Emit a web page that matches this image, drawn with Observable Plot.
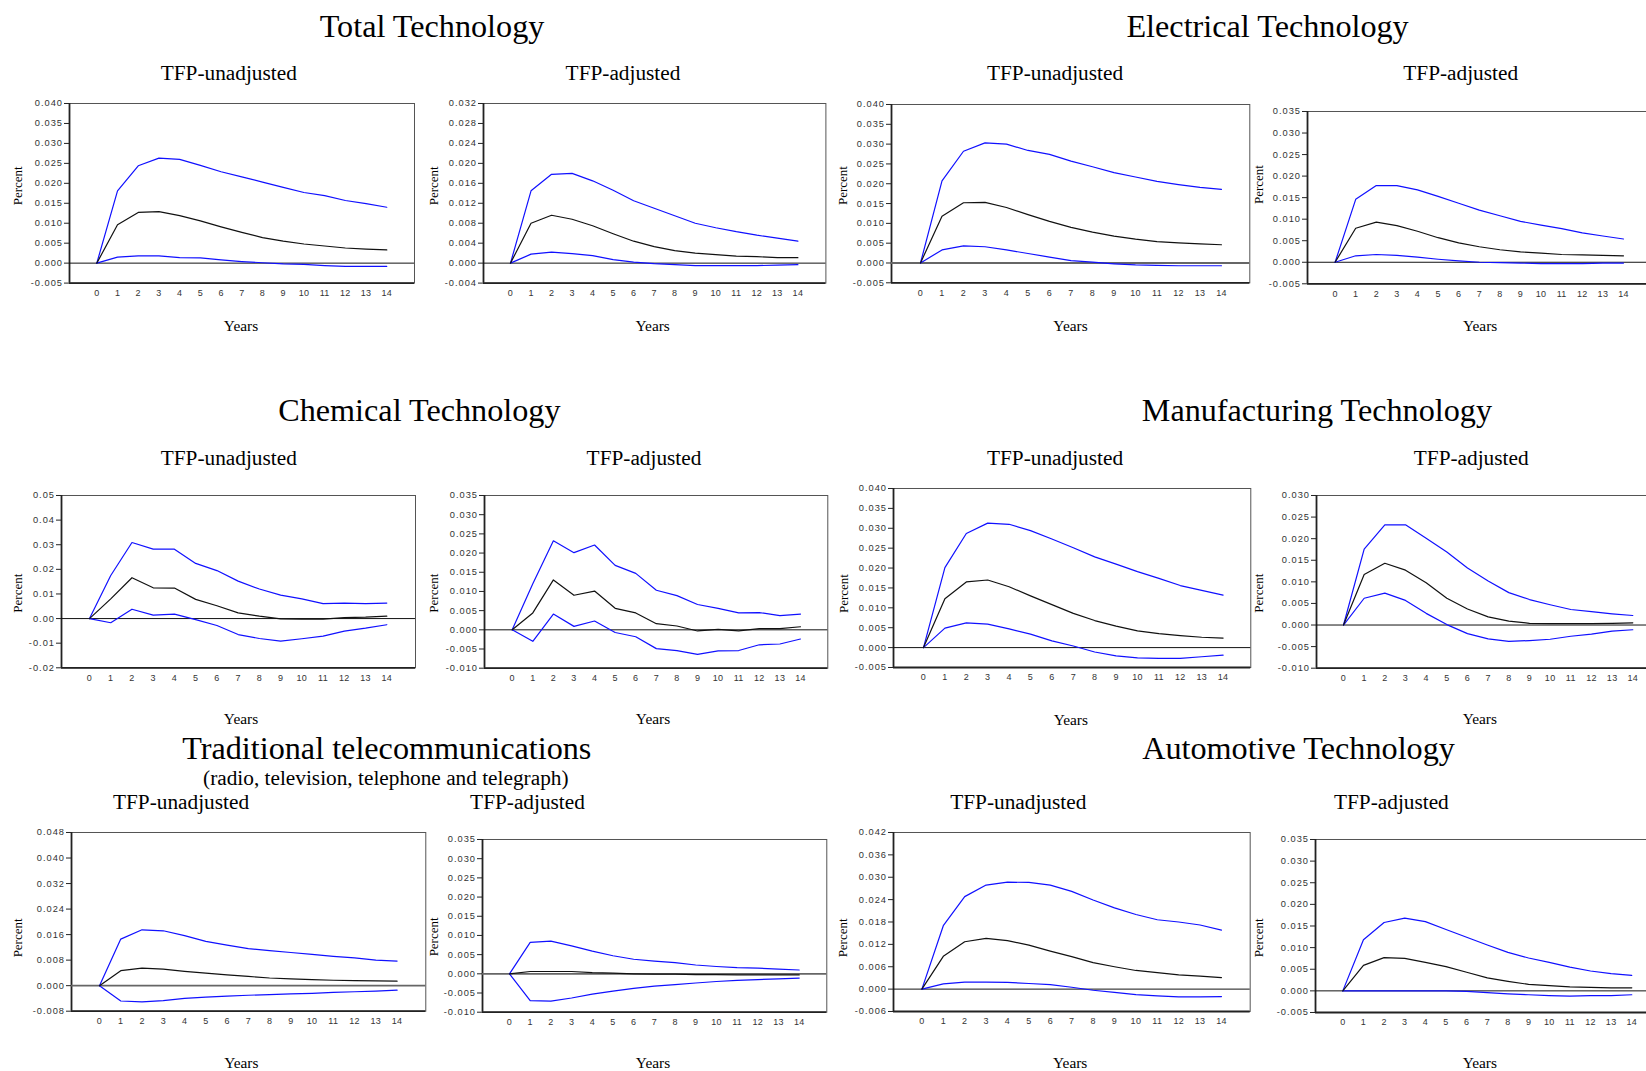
<!DOCTYPE html>
<html>
<head>
<meta charset="utf-8">
<script src="https://cdn.jsdelivr.net/npm/d3@7"></script>
<script src="https://cdn.jsdelivr.net/npm/@observablehq/plot@0.6"></script>
<style>
  html, body { margin: 0; padding: 0; background: #fff; }
  #wrap { position: relative; width: 1646px; height: 1071px; overflow: hidden; background: #fff; }
  .ttl { position: absolute; transform: translate(-50%, -50%); white-space: nowrap; line-height: 1;
         font-family: "Liberation Serif", "Times New Roman", serif; color: #000; }
  .big { font-size: 32.2px; }
  .sub { font-size: 21.3px; }
  #wrap svg { position: absolute; overflow: visible; }
  g[aria-label="y-axis tick label"] text { letter-spacing: 1px; }
  g[aria-label="x-axis tick label"] text { letter-spacing: 0.3px; }
</style>
</head>
<body>
<div id="wrap"></div>
<script>
// ---------- data ----------
const years = [0,1,2,3,4,5,6,7,8,9,10,11,12,13,14];

const groupTitles = ["Total Technology", "Electrical Technology", "Chemical Technology",
  "Manufacturing Technology", "Traditional telecommunications", "Automotive Technology"];
const groupSubtitle = "(radio, television, telephone and telegraph)";
const panelTitles = ["TFP-unadjusted", "TFP-adjusted"];

const totalUnadjUpper = [0, 0.0181, 0.0244, 0.0263, 0.0260, 0.0245, 0.0229, 0.0216, 0.0203, 0.0190, 0.0177, 0.0169, 0.0157, 0.0149, 0.0140];
const totalUnadjIrf   = [0, 0.0096, 0.0127, 0.0129, 0.0119, 0.0106, 0.0091, 0.0077, 0.0064, 0.0055, 0.0048, 0.0043, 0.0038, 0.0035, 0.0033];
const totalUnadjLower = [0, 0.0015, 0.0018, 0.0018, 0.0014, 0.0013, 0.0008, 0.0004, 0.0001, -0.0002, -0.0003, -0.0006, -0.0008, -0.0008, -0.0008];

const totalAdjUpper = [0, 0.0145, 0.0178, 0.0180, 0.0165, 0.0146, 0.0125, 0.0110, 0.0095, 0.0080, 0.0071, 0.0063, 0.0056, 0.0050, 0.0044];
const totalAdjIrf   = [0, 0.0080, 0.0096, 0.0088, 0.0075, 0.0059, 0.0044, 0.0033, 0.0025, 0.0020, 0.0017, 0.0014, 0.0013, 0.0011, 0.0011];
const totalAdjLower = [0, 0.0018, 0.0022, 0.0019, 0.0015, 0.0007, 0.0002, -0.0001, -0.0003, -0.0005, -0.0005, -0.0005, -0.0005, -0.0004, -0.0003];

const elecUnadjUpper = [0, 0.0207, 0.0282, 0.0303, 0.0300, 0.0284, 0.0274, 0.0257, 0.0243, 0.0228, 0.0217, 0.0206, 0.0198, 0.0191, 0.0186];
const elecUnadjIrf   = [0, 0.0118, 0.0152, 0.0153, 0.0140, 0.0122, 0.0105, 0.0090, 0.0078, 0.0068, 0.0060, 0.0054, 0.0051, 0.0048, 0.0046];
const elecUnadjLower = [0, 0.0033, 0.0043, 0.0041, 0.0033, 0.0024, 0.0015, 0.0006, 0.0002, -0.0002, -0.0005, -0.0006, -0.0007, -0.0007, -0.0007];

const elecAdjUpper = [0, 0.0146, 0.0178, 0.0178, 0.0168, 0.0153, 0.0137, 0.0121, 0.0108, 0.0095, 0.0086, 0.0078, 0.0068, 0.0061, 0.0054];
const elecAdjIrf   = [0, 0.0079, 0.0093, 0.0085, 0.0072, 0.0057, 0.0045, 0.0036, 0.0029, 0.0024, 0.0021, 0.0018, 0.0017, 0.0016, 0.0015];
const elecAdjLower = [0, 0.0015, 0.0018, 0.0016, 0.0012, 0.0007, 0.0003, 0.0000, -0.0001, -0.0002, -0.0003, -0.0003, -0.0003, -0.0002, -0.0002];

const chemUnadjUpper = [0, 0.0175, 0.0309, 0.0282, 0.0282, 0.0224, 0.0195, 0.0152, 0.0120, 0.0095, 0.0080, 0.0061, 0.0063, 0.0061, 0.0063];
const chemUnadjIrf   = [0, 0.0080, 0.0166, 0.0125, 0.0124, 0.0078, 0.0052, 0.0023, 0.0010, -0.0001, -0.0002, -0.0002, 0.0004, 0.0006, 0.0010];
const chemUnadjLower = [0, -0.0017, 0.0038, 0.0014, 0.0018, -0.0004, -0.0028, -0.0065, -0.0081, -0.0092, -0.0082, -0.0071, -0.0051, -0.0039, -0.0025];

const chemAdjUpper = [0, 0.0120, 0.0232, 0.0201, 0.0221, 0.0168, 0.0147, 0.0103, 0.0089, 0.0066, 0.0056, 0.0044, 0.0045, 0.0037, 0.0041];
const chemAdjIrf   = [0, 0.0044, 0.0130, 0.0090, 0.0101, 0.0056, 0.0044, 0.0016, 0.0010, -0.0003, 0.0001, -0.0003, 0.0003, 0.0003, 0.0008];
const chemAdjLower = [0, -0.0030, 0.0041, 0.0009, 0.0023, -0.0007, -0.0018, -0.0049, -0.0054, -0.0064, -0.0055, -0.0054, -0.0039, -0.0037, -0.0024];

const manuUnadjUpper = [0, 0.0201, 0.0287, 0.0313, 0.0310, 0.0294, 0.0273, 0.0251, 0.0228, 0.0210, 0.0191, 0.0174, 0.0156, 0.0144, 0.0132];
const manuUnadjIrf   = [0, 0.0123, 0.0165, 0.0170, 0.0153, 0.0130, 0.0108, 0.0086, 0.0068, 0.0054, 0.0042, 0.0035, 0.0030, 0.0026, 0.0024];
const manuUnadjLower = [0, 0.0049, 0.0062, 0.0059, 0.0047, 0.0034, 0.0017, 0.0004, -0.0011, -0.0021, -0.0026, -0.0027, -0.0027, -0.0023, -0.0019];

const manuAdjUpper = [0, 0.0176, 0.0232, 0.0232, 0.0201, 0.0169, 0.0132, 0.0102, 0.0075, 0.0059, 0.0047, 0.0036, 0.0031, 0.0026, 0.0022];
const manuAdjIrf   = [0, 0.0117, 0.0143, 0.0127, 0.0098, 0.0062, 0.0037, 0.0019, 0.0009, 0.0004, 0.0003, 0.0003, 0.0003, 0.0004, 0.0005];
const manuAdjLower = [0, 0.0062, 0.0074, 0.0057, 0.0027, 0.0001, -0.0020, -0.0032, -0.0038, -0.0036, -0.0033, -0.0026, -0.0021, -0.0014, -0.0011];

const tradUnadjUpper = [0, 0.0146, 0.0175, 0.0172, 0.0157, 0.0139, 0.0127, 0.0116, 0.0110, 0.0104, 0.0098, 0.0092, 0.0087, 0.0080, 0.0077];
const tradUnadjIrf   = [0, 0.0047, 0.0055, 0.0052, 0.0045, 0.0039, 0.0034, 0.0029, 0.0024, 0.0021, 0.0019, 0.0017, 0.0016, 0.0015, 0.0014];
const tradUnadjLower = [0, -0.0048, -0.0051, -0.0047, -0.0040, -0.0036, -0.0033, -0.0030, -0.0028, -0.0026, -0.0024, -0.0021, -0.0019, -0.0017, -0.0014];

const tradAdjUpper = [0, 0.0082, 0.0085, 0.0073, 0.0059, 0.0047, 0.0038, 0.0033, 0.0029, 0.0023, 0.0019, 0.0016, 0.0015, 0.0012, 0.0010];
const tradAdjIrf   = [0, 0.0006, 0.0006, 0.0006, 0.0003, 0.0002, 0.0000, -0.0001, -0.0001, -0.0002, -0.0002, -0.0003, -0.0003, -0.0003, -0.0003];
const tradAdjLower = [0, -0.0070, -0.0071, -0.0063, -0.0053, -0.0045, -0.0038, -0.0032, -0.0028, -0.0024, -0.0020, -0.0017, -0.0015, -0.0013, -0.0011];

const autoUnadjUpper = [0, 0.0170, 0.0248, 0.0279, 0.0287, 0.0286, 0.0279, 0.0262, 0.0239, 0.0218, 0.0200, 0.0186, 0.0180, 0.0172, 0.0158];
const autoUnadjIrf   = [0, 0.0088, 0.0127, 0.0136, 0.0130, 0.0118, 0.0102, 0.0087, 0.0071, 0.0060, 0.0050, 0.0044, 0.0038, 0.0035, 0.0031];
const autoUnadjLower = [0, 0.0014, 0.0019, 0.0019, 0.0018, 0.0015, 0.0012, 0.0005, -0.0003, -0.0009, -0.0015, -0.0018, -0.0021, -0.0021, -0.0020];

const autoAdjUpper = [0, 0.0118, 0.0158, 0.0168, 0.0160, 0.0142, 0.0124, 0.0106, 0.0089, 0.0076, 0.0066, 0.0055, 0.0046, 0.0040, 0.0036];
const autoAdjIrf   = [0, 0.0059, 0.0077, 0.0075, 0.0066, 0.0056, 0.0043, 0.0030, 0.0022, 0.0015, 0.0012, 0.0009, 0.0008, 0.0007, 0.0007];
const autoAdjLower = [0, 0.0000, 0.0000, 0.0000, 0.0000, 0.0000, -0.0001, -0.0004, -0.0007, -0.0009, -0.0011, -0.0012, -0.0011, -0.0011, -0.0009];

// y tick labels
const ticks40  = [-0.005, 0.000, 0.005, 0.010, 0.015, 0.020, 0.025, 0.030, 0.035, 0.040];
const ticks32  = [-0.004, 0.000, 0.004, 0.008, 0.012, 0.016, 0.020, 0.024, 0.028, 0.032];
const ticks35  = [-0.005, 0.000, 0.005, 0.010, 0.015, 0.020, 0.025, 0.030, 0.035];
const ticks05  = [-0.02, -0.01, 0.00, 0.01, 0.02, 0.03, 0.04, 0.05];
const ticks35n = [-0.010, -0.005, 0.000, 0.005, 0.010, 0.015, 0.020, 0.025, 0.030, 0.035];
const ticks30n = [-0.010, -0.005, 0.000, 0.005, 0.010, 0.015, 0.020, 0.025, 0.030];
const ticks48  = [-0.008, 0.000, 0.008, 0.016, 0.024, 0.032, 0.040, 0.048];
const ticks42  = [-0.006, 0.000, 0.006, 0.012, 0.018, 0.024, 0.030, 0.036, 0.042];

// ---------- layout (pixel geometry of each panel) ----------
const yx = [240.5, 652.5, 1070, 1479.3]; // "Years" label centres per column
const panels = [
  {up: totalUnadjUpper, irf: totalUnadjIrf, lo: totalUnadjLower, ticks: ticks40, dec: 3,
   L: 69, T: 102.7, R: 414, B: 282.3, x0: 96.3, x14: 386.3, px: 17.3, py: 185, yy: 326, yx: yx[0]},
  {up: totalAdjUpper, irf: totalAdjIrf, lo: totalAdjLower, ticks: ticks32, dec: 3,
   L: 483.3, T: 102.7, R: 825.7, B: 282.3, x0: 510.3, x14: 797.7, px: 433.3, py: 185, yy: 326, yx: yx[1]},
  {up: elecUnadjUpper, irf: elecUnadjIrf, lo: elecUnadjLower, ticks: ticks40, dec: 3,
   L: 891, T: 104, R: 1249.3, B: 282.3, x0: 920, x14: 1221, px: 842.7, py: 185, yy: 326, yx: yx[2], zg: true},
  {up: elecAdjUpper, irf: elecAdjIrf, lo: elecAdjLower, ticks: ticks35, dec: 3,
   L: 1306.7, T: 111, R: null, B: 283.3, x0: 1334.3, x14: 1622.7, px: 1258.3, py: 184, yy: 326, yx: yx[3]},
  {up: chemUnadjUpper, irf: chemUnadjIrf, lo: chemUnadjLower, ticks: ticks05, dec: 2,
   L: 61, T: 495, R: 415, B: 667.3, x0: 89, x14: 386.3, px: 17.3, py: 592.7, yy: 719.3, yx: yx[0]},
  {up: chemAdjUpper, irf: chemAdjIrf, lo: chemAdjLower, ticks: ticks35n, dec: 3,
   L: 484, T: 495, R: 827.3, B: 667.7, x0: 511.7, x14: 800, px: 433.3, py: 592.7, yy: 719.3, yx: yx[1]},
  {up: manuUnadjUpper, irf: manuUnadjIrf, lo: manuUnadjLower, ticks: ticks40, dec: 3,
   L: 892.7, T: 487.7, R: 1250, B: 666.7, x0: 922.7, x14: 1222.3, px: 842.7, py: 592.7, yy: 719.3, yx: yx[2]},
  {up: manuAdjUpper, irf: manuAdjIrf, lo: manuAdjLower, ticks: ticks30n, dec: 3,
   L: 1316, T: 495, R: null, B: 667.7, x0: 1343, x14: 1632.3, px: 1258.3, py: 592.7, yy: 719.3, yx: yx[3]},
  {up: tradUnadjUpper, irf: tradUnadjIrf, lo: tradUnadjLower, ticks: ticks48, dec: 3,
   L: 70.7, T: 832.3, R: 425, B: 1011, x0: 98.7, x14: 396.3, px: 17.3, py: 937.7, yy: 1063, yx: yx[0], zg: true},
  {up: tradAdjUpper, irf: tradAdjIrf, lo: tradAdjLower, ticks: ticks35n, dec: 3,
   L: 482, T: 839.3, R: 826.3, B: 1012, x0: 509, x14: 798.7, px: 433.3, py: 936.7, yy: 1063, yx: yx[1], zg: true},
  {up: autoUnadjUpper, irf: autoUnadjIrf, lo: autoUnadjLower, ticks: ticks42, dec: 3,
   L: 893.3, T: 832.3, R: 1250, B: 1011.3, x0: 921.7, x14: 1221.3, px: 842.7, py: 937.7, yy: 1063, yx: yx[2]},
  {up: autoAdjUpper, irf: autoAdjIrf, lo: autoAdjLower, ticks: ticks35, dec: 3,
   L: 1315, T: 839.3, R: null, B: 1012.3, x0: 1342.3, x14: 1631.3, px: 1258.3, py: 937.7, yy: 1063, yx: yx[3]}
];

const titles = [
  {t: groupTitles[0], c: "big", x: 432, y: 26},
  {t: groupTitles[1], c: "big", x: 1267.6, y: 26},
  {t: panelTitles[0], c: "sub", x: 228.8, y: 74.3},
  {t: panelTitles[1], c: "sub", x: 623, y: 74.3},
  {t: panelTitles[0], c: "sub", x: 1055, y: 74.3},
  {t: panelTitles[1], c: "sub", x: 1460.7, y: 74.3},
  {t: groupTitles[2], c: "big", x: 419.4, y: 410.2},
  {t: groupTitles[3], c: "big", x: 1316.9, y: 410.2},
  {t: panelTitles[0], c: "sub", x: 228.8, y: 458.5},
  {t: panelTitles[1], c: "sub", x: 644, y: 458.5},
  {t: panelTitles[0], c: "sub", x: 1055, y: 458.5},
  {t: panelTitles[1], c: "sub", x: 1471.2, y: 458.5},
  {t: groupTitles[4], c: "big", x: 386.8, y: 748},
  {t: groupSubtitle, c: "sub", x: 385.8, y: 778.5},
  {t: groupTitles[5], c: "big", x: 1298.5, y: 748},
  {t: panelTitles[0], c: "sub", x: 181, y: 802.6},
  {t: panelTitles[1], c: "sub", x: 527.5, y: 802.6},
  {t: panelTitles[0], c: "sub", x: 1018.3, y: 802.6},
  {t: panelTitles[1], c: "sub", x: 1391.4, y: 802.6}
];

// ---------- render ----------
const wrap = document.getElementById("wrap");
for (const tt of titles) {
  const d = document.createElement("div");
  d.className = "ttl " + tt.c;
  d.textContent = tt.t;
  d.style.left = tt.x + "px";
  d.style.top = tt.y + "px";
  wrap.appendChild(d);
}

const ML = 70, MT = 10, MR = 10, MB = 70;
const serif = "Liberation Serif, Times New Roman, serif";
const sans = "Liberation Sans, Arial, sans-serif";

for (const p of panels) {
  const step = (p.x14 - p.x0) / 14;
  const R = p.R == null ? p.x14 + 1.33 * step : p.R;
  const xl = (p.L - p.x0) / step;
  const xr = 14 + (R - p.x14) / step;
  const ymin = p.ticks[0], ymax = p.ticks[p.ticks.length - 1];
  const W = R - p.L, H = p.B - p.T;
  const rows = k => years.map((t, i) => ({t, v: k[i]}));
  const svg = Plot.plot({
    width: ML + W + MR,
    height: MT + H + MB,
    marginLeft: ML, marginRight: MR, marginTop: MT, marginBottom: MB,
    style: {fontFamily: sans, fontSize: "9px", color: "#222", background: "transparent"},
    x: {domain: [xl, xr]},
    y: {domain: [ymin, ymax]},
    marks: [
      Plot.frame({stroke: "#555", strokeWidth: 1}),
      Plot.ruleX([xl], {stroke: "#222", strokeWidth: 1.8}),
      Plot.ruleY([ymin], {stroke: "#222", strokeWidth: 1.8}),
      Plot.ruleY([0], {stroke: p.zg ? "#666" : "#111", strokeWidth: p.zg ? 1.8 : 1}),
      Plot.line(rows(p.up), {x: "t", y: "v", stroke: "#1010ff", strokeWidth: 1.2}),
      Plot.line(rows(p.lo), {x: "t", y: "v", stroke: "#1010ff", strokeWidth: 1.2}),
      Plot.line(rows(p.irf), {x: "t", y: "v", stroke: "#111", strokeWidth: 1.2}),
      Plot.axisY({ticks: p.ticks, tickFormat: d => d.toFixed(p.dec), tickSize: 5, tickPadding: 1.5,
                  label: null, fontSize: 9.3, fill: "#333"}),
      Plot.axisX({ticks: years, tickFormat: d => String(d), tickSize: 0, tickPadding: 6.5,
                  label: null, fontSize: 9, fill: "#333"}),
      Plot.text(["Percent"], {text: d => d, frameAnchor: "left", dx: p.px - p.L, dy: p.py - (p.T + p.B) / 2,
                  rotate: -90, textAnchor: "middle", fontSize: 13, fontFamily: serif, fill: "#000"}),
      Plot.text(["Years"], {text: d => d, frameAnchor: "bottom-left", textAnchor: "middle",
                  dx: p.yx - p.L, dy: p.yy - p.B + 4.5,
                  fontSize: 15.4, fontFamily: serif, fill: "#000"})
    ]
  });
  svg.style.left = (p.L - ML) + "px";
  svg.style.top = (p.T - MT) + "px";
  svg.style.maxWidth = "none";
  wrap.appendChild(svg);
}
</script>
</body>
</html>
